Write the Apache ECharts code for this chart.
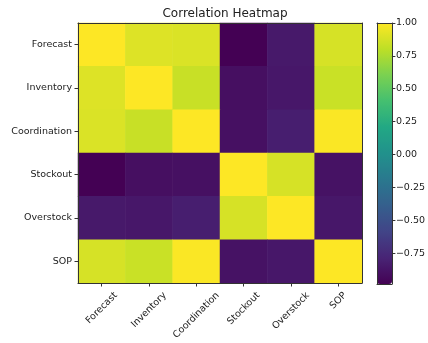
<!DOCTYPE html>
<html>
<head>
<meta charset="utf-8">
<script src="https://cdn.jsdelivr.net/npm/echarts@6/dist/echarts.min.js"></script>
<style>html,body{margin:0;padding:0;background:#fff;}#c{width:428px;height:343px;}</style>
</head>
<body>
<div id="c"></div>
<script>
const categories = ['Forecast', 'Inventory', 'Coordination', 'Stockout', 'Overstock', 'SOP'];
const rowForecast     = [1.00, 0.90, 0.89, -0.985, -0.85, 0.88];
const rowInventory    = [0.90, 1.00, 0.835, -0.905, -0.86, 0.84];
const rowCoordination = [0.89, 0.835, 1.00, -0.90, -0.82, 0.99];
const rowStockout     = [-0.985, -0.905, -0.90, 1.00, 0.88, -0.89];
const rowOverstock    = [-0.85, -0.86, -0.82, 0.88, 1.00, -0.86];
const rowSOP          = [0.88, 0.84, 0.99, -0.89, -0.86, 1.00];
const colorbarTicks = [-0.75, -0.50, -0.25, 0.00, 0.25, 0.50, 0.75, 1.00];
const vMin = -0.985, vMax = 1.0;

const matrix = [rowForecast, rowInventory, rowCoordination, rowStockout, rowOverstock, rowSOP];
const data = [];
matrix.forEach((row, yi) => row.forEach((v, xi) => data.push([xi, yi, v])));

const viridis = ['#440154','#482475','#414487','#355f8d','#2a788e','#21918c','#22a884','#44bf70','#7ad151','#bddf26','#fde725'];
const font = 'DejaVu Sans';
const fs = 9.5;
const txt = '#222';
const lineC = '#333';

// matplotlib-style rotated labels: bounding box centred under the tick
const ctx = document.createElement('canvas').getContext('2d');
ctx.font = fs + 'px "' + font + '"';
const rich = {};
categories.forEach((c, i) => {
  const w = ctx.measureText(c).width;
  const h = 11;
  const bboxH = 0.7071 * (w + h);
  const dp = bboxH / 2;
  const p = 2 * 0.7071 * dp;
  rich['l' + i] = {padding: [p, p, 0, 0], fontFamily: font, fontSize: fs, color: txt};
});

const chart = echarts.init(document.getElementById('c'), null, {renderer: 'canvas'});
chart.setOption({
  animation: false,
  backgroundColor: '#fff',
  title: {
    text: 'Correlation Heatmap', left: 220, top: 3, textAlign: 'center',
    textStyle: {fontFamily: font, fontSize: 12, fontWeight: 'normal', color: txt}
  },
  grid: [
    {left: 78, top: 23, width: 284, height: 260},
    {left: 377, top: 23, width: 15, height: 261}
  ],
  xAxis: [
    {type: 'category', gridIndex: 0, data: categories, position: 'bottom', z: 10,
     axisLine: {show: true, lineStyle: {color: lineC, width: 1}},
     axisTick: {show: true, alignWithLabel: true, length: 3.5, lineStyle: {color: lineC}},
     axisLabel: {rotate: 45, margin: 7, align: 'center', verticalAlign: 'middle',
       fontFamily: font, fontSize: fs, color: txt, rich: rich,
       formatter: (v, i) => '{l' + i + '|' + v + '}'},
     splitLine: {show: false}},
    {type: 'category', gridIndex: 0, data: categories, position: 'top', z: 10,
     axisLine: {show: true, onZero: false, lineStyle: {color: lineC, width: 1}},
     axisTick: {show: false}, axisLabel: {show: false}, splitLine: {show: false}},
    {type: 'value', gridIndex: 1, position: 'bottom', z: 10, min: 0, max: 1,
     axisLine: {show: true, onZero: false, lineStyle: {color: lineC, width: 1}},
     axisTick: {show: false}, axisLabel: {show: false}, splitLine: {show: false}},
    {type: 'value', gridIndex: 1, position: 'top', z: 10, min: 0, max: 1,
     axisLine: {show: true, onZero: false, lineStyle: {color: lineC, width: 1}},
     axisTick: {show: false}, axisLabel: {show: false}, splitLine: {show: false}}
  ],
  yAxis: [
    {type: 'category', gridIndex: 0, data: categories, inverse: true, position: 'left', z: 10,
     axisLine: {show: true, lineStyle: {color: lineC, width: 1}},
     axisTick: {show: true, alignWithLabel: true, length: 3.5, lineStyle: {color: lineC}},
     axisLabel: {margin: 6, fontFamily: font, fontSize: fs, color: txt},
     splitLine: {show: false}},
    {type: 'category', gridIndex: 0, data: categories, inverse: true, position: 'right', z: 10,
     axisLine: {show: true, onZero: false, lineStyle: {color: lineC, width: 1}},
     axisTick: {show: false}, axisLabel: {show: false}, splitLine: {show: false}},
    {type: 'value', gridIndex: 1, position: 'right', z: 10, min: vMin, max: vMax,
     axisLine: {show: true, onZero: false, lineStyle: {color: lineC, width: 1}},
     axisTick: {show: true, length: 3.5, customValues: colorbarTicks, lineStyle: {color: lineC}},
     axisLabel: {show: true, customValues: colorbarTicks, margin: 4, fontFamily: font, fontSize: fs, color: txt,
       formatter: v => v.toFixed(2).replace('-', '\u2212')},
     splitLine: {show: false}},
    {type: 'value', gridIndex: 1, position: 'left', z: 10, min: vMin, max: vMax,
     axisLine: {show: true, onZero: false, lineStyle: {color: lineC, width: 1}},
     axisTick: {show: false}, axisLabel: {show: false}, splitLine: {show: false}}
  ],
  visualMap: {
    type: 'continuous', min: vMin, max: vMax, seriesIndex: 0,
    orient: 'vertical', left: 377, top: 23, itemWidth: 15, itemHeight: 261,
    padding: 0, calculable: false, realtime: false, hoverLink: false,
    text: null, showLabel: false,
    inRange: {color: viridis},
    textStyle: {color: 'transparent'}
  },
  series: [{
    type: 'heatmap', xAxisIndex: 0, yAxisIndex: 0, data: data,
    itemStyle: {borderWidth: 0},
    emphasis: {disabled: true}
  }]
});
</script>
</body>
</html>
